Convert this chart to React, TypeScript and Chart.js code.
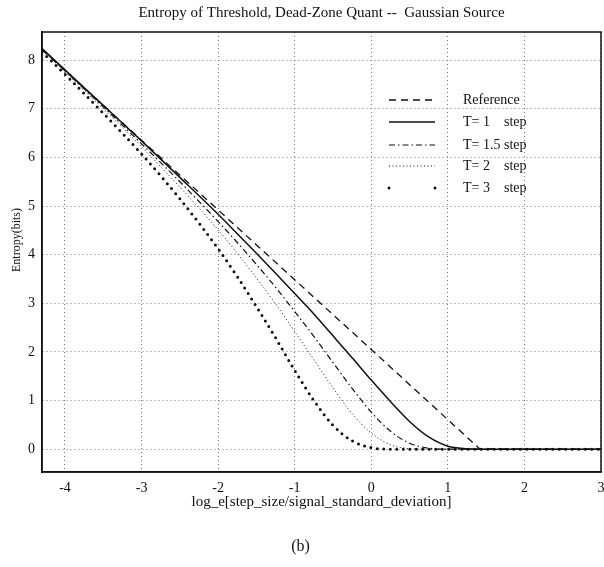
import React, { useEffect, useRef } from "react";
import { Chart, registerables } from "chart.js";

Chart.register(...registerables);

// ---- data ----
const X_VALUES = [-4.3, -4, -3.5, -3, -2.5, -2, -1.75, -1.5, -1.25, -1, -0.75, -0.5, -0.25, 0, 0.25, 0.5, 0.75, 1, 1.25, 1.5, 2, 2.5, 3];
const T1_VALUES = [8.24, 7.8, 7.07, 6.34, 5.59, 4.83, 4.43, 4.03, 3.62, 3.2, 2.78, 2.33, 1.88, 1.42, 0.98, 0.57, 0.25, 0.06, 0.01, 0, 0, 0, 0];
const T15_VALUES = [8.22, 7.78, 7.04, 6.28, 5.5, 4.68, 4.25, 3.8, 3.33, 2.83, 2.32, 1.78, 1.25, 0.76, 0.37, 0.12, 0.02, 0, 0, 0, 0, 0, 0];
const T2_VALUES = [8.21, 7.76, 7.0, 6.22, 5.39, 4.51, 4.03, 3.52, 2.99, 2.42, 1.84, 1.26, 0.73, 0.33, 0.09, 0.01, 0, 0, 0, 0, 0, 0, 0];
const T3_VALUES = [8.17, 7.71, 6.91, 6.07, 5.15, 4.12, 3.55, 2.93, 2.29, 1.62, 1.0, 0.49, 0.17, 0.03, 0, 0, 0, 0, 0, 0, 0, 0, 0];
const REF_X = [-4.3, 0, 1.42, 3];
const REF_Y = [8.22, 2.05, 0, 0];

const LEGEND_LABELS = ["Reference", "T= 1", "T= 1.5", "T= 2", "T= 3"];
const LEGEND_SUFFIX = ["", "step", "step", "step", "step"];
const TITLE = "Entropy of Threshold, Dead-Zone Quant --  Gaussian Source";
const X_TITLE = "log_e[step_size/signal_standard_deviation]";
const Y_TITLE = "Entropy(bits)";
const CAPTION = "(b)";

const FONT = "'Liberation Serif', 'Times New Roman', serif";
const INK = "#111";

const toPoints = (xs: number[], ys: number[]) => xs.map((x, i) => ({ x, y: ys[i] }));

type LineStyle = { dash: number[]; width: number; cap: CanvasLineCap };
const STYLES: LineStyle[] = [
  { dash: [7, 5], width: 1.3, cap: "butt" },
  { dash: [], width: 1.5, cap: "butt" },
  { dash: [6, 3, 1.5, 3], width: 1.2, cap: "butt" },
  { dash: [1, 2.5], width: 1, cap: "butt" },
  { dash: [0, 6.5], width: 3, cap: "round" },
];

const framePlugin = {
  id: "frame",
  afterDraw(chart: any) {
    const { ctx, chartArea } = chart;
    ctx.save();
    ctx.strokeStyle = INK;
    ctx.lineWidth = 1.5;
    ctx.setLineDash([]);
    ctx.strokeRect(chartArea.left, chartArea.top, chartArea.right - chartArea.left, chartArea.bottom - chartArea.top);
    // y-axis title
    ctx.translate(17, 240);
    ctx.rotate(-Math.PI / 2);
    ctx.fillStyle = INK;
    ctx.font = `12px ${FONT}`;
    ctx.textAlign = "center";
    ctx.textBaseline = "middle";
    ctx.fillText(Y_TITLE, 0, 0);
    ctx.restore();
  },
};

const legendPlugin = {
  id: "innerLegend",
  afterDraw(chart: any) {
    const { ctx } = chart;
    const x1 = 389;
    const x2 = 435;
    const tx = 463;
    const sx = 504;
    const rows = [100, 122, 145, 166, 188];
    ctx.save();
    LEGEND_LABELS.forEach((label, i) => {
      const st = STYLES[i];
      const y = rows[i];
      ctx.strokeStyle = INK;
      ctx.fillStyle = INK;
      if (i === 4) {
        [x1, x2].forEach((px) => {
          ctx.beginPath();
          ctx.arc(px, y, 1.5, 0, Math.PI * 2);
          ctx.fill();
        });
      } else {
        ctx.lineWidth = st.width;
        ctx.lineCap = st.cap;
        ctx.setLineDash(st.dash);
        ctx.beginPath();
        ctx.moveTo(x1, y);
        ctx.lineTo(x2, y);
        ctx.stroke();
      }
      ctx.setLineDash([]);
      ctx.font = `14px ${FONT}`;
      ctx.textBaseline = "middle";
      ctx.textAlign = "left";
      ctx.fillText(label, tx, y);
      if (LEGEND_SUFFIX[i]) ctx.fillText(LEGEND_SUFFIX[i], sx, y);
    });
    ctx.restore();
  },
};

export default function App() {
  const canvasRef = useRef<HTMLCanvasElement | null>(null);

  useEffect(() => {
    if (!canvasRef.current) return;
    const series = [
      toPoints(REF_X, REF_Y),
      toPoints(X_VALUES, T1_VALUES),
      toPoints(X_VALUES, T15_VALUES),
      toPoints(X_VALUES, T2_VALUES),
      toPoints(X_VALUES, T3_VALUES),
    ];
    const chart = new Chart(canvasRef.current, {
      type: "line",
      data: {
        datasets: series.map((data, i) => ({
          label: LEGEND_LABELS[i],
          data,
          borderColor: INK,
          backgroundColor: INK,
          borderWidth: STYLES[i].width,
          borderDash: STYLES[i].dash,
          borderCapStyle: STYLES[i].cap,
          pointRadius: 0,
          fill: false,
          cubicInterpolationMode: i === 0 ? "default" : "monotone",
          tension: 0,
        })),
      },
      options: {
        responsive: false,
        animation: false,
        devicePixelRatio: 1,
        layout: { padding: { left: 0, right: 3, top: 0, bottom: 0 } },
        plugins: {
          legend: { display: false },
          tooltip: { enabled: false },
          title: {
            display: true,
            fullSize: false,
            text: TITLE,
            color: INK,
            font: { family: FONT, size: 15, weight: "normal" },
            padding: { top: 4, bottom: 10 },
          },
          subtitle: {
            display: true,
            position: "bottom",
            text: CAPTION,
            color: INK,
            font: { family: FONT, size: 16, weight: "normal" },
            padding: { top: 25.4, bottom: 10.4 },
          },
        },
        scales: {
          x: {
            type: "linear",
            min: -4.3,
            max: 3,
            afterFit: (s: any) => {
              s.height = 40;
              s.paddingLeft = 0;
              s.paddingRight = 0;
            },
            ticks: {
              stepSize: 1,
              includeBounds: false,
              color: INK,
              padding: 8,
              maxRotation: 0,
              font: { family: FONT, size: 14 },
            },
            grid: { color: "#777", lineWidth: 1, drawTicks: false },
            border: { display: true, color: INK, width: 1.5, dash: [1, 3] },
            title: {
              display: true,
              text: X_TITLE,
              color: INK,
              font: { family: FONT, size: 15 },
              padding: { top: 0, bottom: 1 },
            },
          },
          y: {
            type: "linear",
            min: -0.47,
            max: 8.58,
            afterFit: (s: any) => {
              s.width = 42;
              s.paddingTop = 0;
              s.paddingBottom = 0;
            },
            ticks: {
              stepSize: 1,
              includeBounds: false,
              color: INK,
              padding: 7,
              font: { family: FONT, size: 14 },
            },
            grid: { color: "#777", lineWidth: 1, drawTicks: false },
            border: { display: true, color: INK, width: 1.5, dash: [1, 3] },
          },
        },
      },
      plugins: [framePlugin, legendPlugin],
    } as any);
    return () => chart.destroy();
  }, []);

  return (
    <div style={{ position: "absolute", left: 0, top: 0, width: 604, height: 567, background: "#fff" }}>
      <canvas ref={canvasRef} width={604} height={567} />
    </div>
  );
}
